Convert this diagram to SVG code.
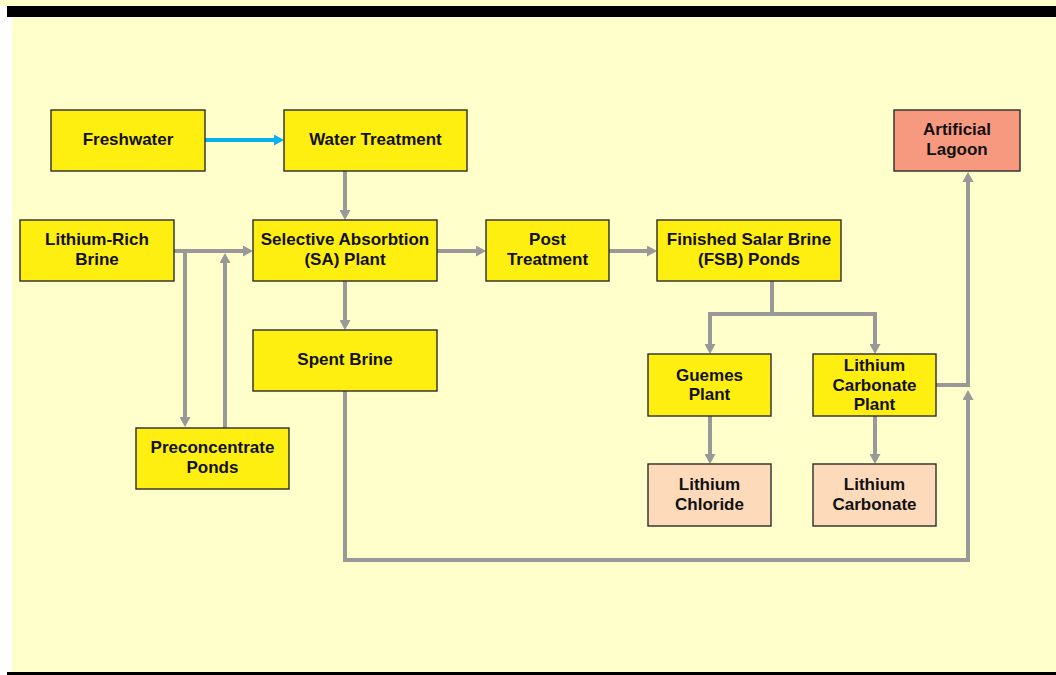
<svg xmlns="http://www.w3.org/2000/svg" width="1056" height="675" viewBox="0 0 1056 675">
<style>
.bg{fill:#FFFFCC}
.box rect{stroke:#2b2b2b;stroke-width:1.4}
.y rect{fill:#FFEF11}
.p rect{fill:#FCDABA}
.s rect{fill:#F7997F}
text{font-family:"Liberation Sans",Arial,sans-serif;font-weight:bold;font-size:17px;fill:#111;text-anchor:middle}
.c{fill:none;stroke:#999999;stroke-width:4}
.b{fill:none;stroke:#0AB0EE;stroke-width:4}
</style>
<defs>
<marker id="ag" viewBox="0 0 10 11" markerWidth="10" markerHeight="11" markerUnits="userSpaceOnUse" refX="1" refY="5.5" orient="auto"><path d="M0,0 L10,5.5 L0,11 z" fill="#999999"/></marker>
<marker id="ab" viewBox="0 0 10 11" markerWidth="10" markerHeight="11" markerUnits="userSpaceOnUse" refX="1" refY="5.5" orient="auto"><path d="M0,0 L10,5.5 L0,11 z" fill="#0AB0EE"/></marker>
</defs>
<rect x="0" y="0" width="1056" height="675" fill="#FFFFFF"/>
<rect class="bg" x="12" y="0" width="1044" height="672"/>
<rect class="bg" x="0" y="0" width="1056" height="6"/>
<rect x="7" y="6" width="1049" height="11" fill="#000"/>
<rect x="7" y="672" width="1049" height="3" fill="#000"/>

<g id="connectors">
<path class="b" d="M205,140 H275" marker-end="url(#ab)"/>
<path class="c" d="M174,251 H244" marker-end="url(#ag)"/>
<path class="c" d="M185,251 V418" marker-end="url(#ag)"/>
<path class="c" d="M225,428 V262" marker-end="url(#ag)"/>
<path class="c" d="M345,171 V211" marker-end="url(#ag)"/>
<path class="c" d="M345,281 V321" marker-end="url(#ag)"/>
<path class="c" d="M437,251 H477" marker-end="url(#ag)"/>
<path class="c" d="M609,251 H648" marker-end="url(#ag)"/>
<path class="c" d="M772,281 V314 H710 V345" marker-end="url(#ag)"/>
<path class="c" d="M772,314 H875 V345" marker-end="url(#ag)"/>
<path class="c" d="M710,416 V455" marker-end="url(#ag)"/>
<path class="c" d="M875,416 V455" marker-end="url(#ag)"/>
<path class="c" d="M936,385 H968 V181" marker-end="url(#ag)"/>
<path class="c" d="M345,391 V560 H968 V399" marker-end="url(#ag)"/>
</g>

<g id="freshwater" class="box y"><rect x="51" y="110" width="154" height="61"/><text x="128" y="145">Freshwater</text></g>
<g id="water-treatment" class="box y"><rect x="284" y="110" width="183" height="61"/><text x="375.5" y="145">Water Treatment</text></g>
<g id="lithium-rich-brine" class="box y"><rect x="20" y="220" width="154" height="61"/><text x="97" y="245">Lithium-Rich</text><text x="97" y="265">Brine</text></g>
<g id="sa-plant" class="box y"><rect x="253" y="220" width="184" height="61"/><text x="345" y="245">Selective Absorbtion</text><text x="345" y="265">(SA) Plant</text></g>
<g id="post-treatment" class="box y"><rect x="486" y="220" width="123" height="61"/><text x="547.5" y="245">Post</text><text x="547.5" y="265">Treatment</text></g>
<g id="fsb-ponds" class="box y"><rect x="657" y="220" width="184" height="61"/><text x="749" y="245">Finished Salar Brine</text><text x="749" y="265">(FSB) Ponds</text></g>
<g id="spent-brine" class="box y"><rect x="253" y="330" width="184" height="61"/><text x="345" y="365">Spent Brine</text></g>
<g id="preconcentrate-ponds" class="box y"><rect x="136" y="428" width="153" height="61"/><text x="212.5" y="453">Preconcentrate</text><text x="212.5" y="473">Ponds</text></g>
<g id="guemes-plant" class="box y"><rect x="648" y="354" width="123" height="62"/><text x="709.5" y="380.5">Guemes</text><text x="709.5" y="400">Plant</text></g>
<g id="lithium-carbonate-plant" class="box y"><rect x="813" y="354" width="123" height="62"/><text x="874.5" y="371">Lithium</text><text x="874.5" y="390.5">Carbonate</text><text x="874.5" y="410">Plant</text></g>
<g id="lithium-chloride" class="box p"><rect x="648" y="464" width="123" height="62"/><text x="709.5" y="490">Lithium</text><text x="709.5" y="510">Chloride</text></g>
<g id="lithium-carbonate" class="box p"><rect x="813" y="464" width="123" height="62"/><text x="874.5" y="490">Lithium</text><text x="874.5" y="510">Carbonate</text></g>
<g id="artificial-lagoon" class="box s"><rect x="894" y="110" width="126" height="61"/><text x="957" y="135">Artificial</text><text x="957" y="155">Lagoon</text></g>
</svg>
